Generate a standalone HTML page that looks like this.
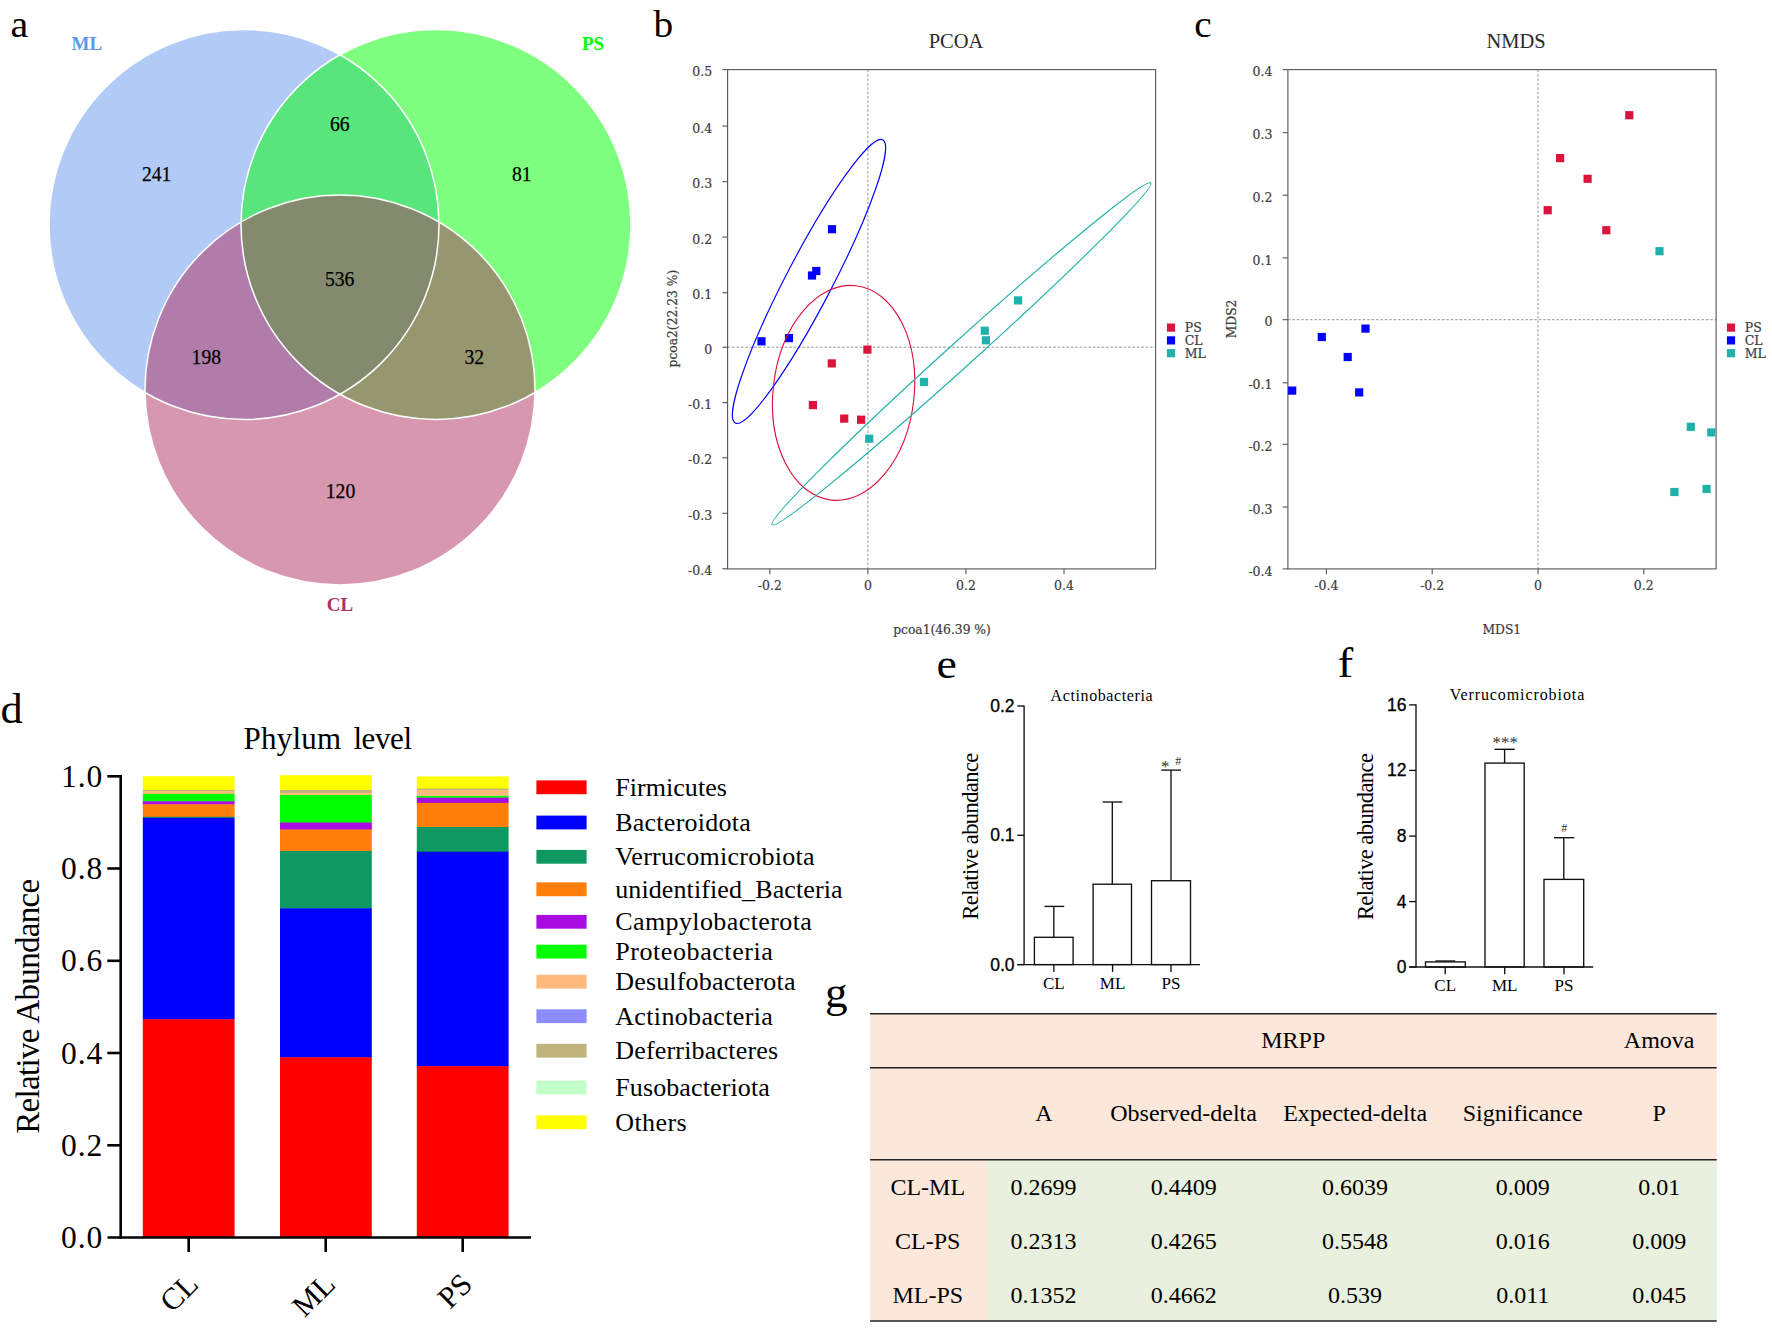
<!DOCTYPE html>
<html lang="en"><head><meta charset="utf-8"><title>Figure</title>
<style>html,body{margin:0;padding:0;background:#fff}svg{display:block}text{white-space:pre}</style>
</head><body>
<svg width="1772" height="1331" viewBox="0 0 1772 1331">
<text transform="translate(10.6 36.6) scale(1.05 1)" font-size="38" font-family='"Liberation Serif","Times New Roman",serif' fill="#000">a</text>
<text transform="translate(653.6 37.1) scale(1.05 1)" font-size="37.5" font-family='"Liberation Serif","Times New Roman",serif' fill="#000">b</text>
<text transform="translate(1194.2 36.6) scale(1.05 1)" font-size="37.3" font-family='"Liberation Serif","Times New Roman",serif' fill="#000">c</text>
<text transform="translate(0.6 722.9) scale(1.05 1)" font-size="42.3" font-family='"Liberation Serif","Times New Roman",serif' fill="#000">d</text>
<text transform="translate(936.6 678.4) scale(1.09 1)" font-size="42.1" font-family='"Liberation Serif","Times New Roman",serif' fill="#000">e</text>
<text transform="translate(1337.5 677.0) scale(1.1 1)" font-size="43" font-family='"Liberation Serif","Times New Roman",serif' fill="#000">f</text>
<text transform="translate(825.1 1007.2) scale(1.02 1)" font-size="44.3" font-family='"Liberation Serif","Times New Roman",serif' fill="#000">g</text>
<g fill-opacity="0.5" stroke="none">
<circle cx="244" cy="224.5" r="195" fill="#6495ED"/>
<circle cx="436" cy="224.5" r="195" fill="#00FF00"/>
<circle cx="340" cy="390" r="195" fill="#B03060"/>
</g>
<g fill="none" stroke="#fff" stroke-width="1.5">
<circle cx="244" cy="224.5" r="195"/>
<circle cx="436" cy="224.5" r="195"/>
<circle cx="340" cy="390" r="195"/>
</g>
<text x="141.9" y="180.5" font-size="21.5" font-family='"Liberation Serif","Times New Roman",serif' fill="#000" stroke="#000" stroke-width="0.25" textLength="29.4" lengthAdjust="spacingAndGlyphs">241</text>
<text x="329.9" y="131.3" font-size="21.5" font-family='"Liberation Serif","Times New Roman",serif' fill="#000" stroke="#000" stroke-width="0.25" textLength="19.6" lengthAdjust="spacingAndGlyphs">66</text>
<text x="512.0" y="180.5" font-size="21.5" font-family='"Liberation Serif","Times New Roman",serif' fill="#000" stroke="#000" stroke-width="0.25" textLength="19.6" lengthAdjust="spacingAndGlyphs">81</text>
<text x="325.0" y="285.8" font-size="21.5" font-family='"Liberation Serif","Times New Roman",serif' fill="#000" stroke="#000" stroke-width="0.25" textLength="29.4" lengthAdjust="spacingAndGlyphs">536</text>
<text x="191.6" y="364.3" font-size="21.5" font-family='"Liberation Serif","Times New Roman",serif' fill="#000" stroke="#000" stroke-width="0.25" textLength="29.4" lengthAdjust="spacingAndGlyphs">198</text>
<text x="464.5" y="364.3" font-size="21.5" font-family='"Liberation Serif","Times New Roman",serif' fill="#000" stroke="#000" stroke-width="0.25" textLength="19.6" lengthAdjust="spacingAndGlyphs">32</text>
<text x="325.8" y="497.5" font-size="21.5" font-family='"Liberation Serif","Times New Roman",serif' fill="#000" stroke="#000" stroke-width="0.25" textLength="29.4" lengthAdjust="spacingAndGlyphs">120</text>
<text x="86.8" y="50.1" font-size="19" font-family='"Liberation Serif","Times New Roman",serif' fill="#6495ED" text-anchor="middle" font-weight="bold" >ML</text>
<text x="593" y="50.1" font-size="19" font-family='"Liberation Serif","Times New Roman",serif' fill="#00FF00" text-anchor="middle" font-weight="bold" >PS</text>
<text x="340" y="611" font-size="19" font-family='"Liberation Serif","Times New Roman",serif' fill="#B03060" text-anchor="middle" font-weight="bold" >CL</text>
<g stroke="#8a8a8a" stroke-width="0.9" stroke-dasharray="2.6 1.8">
<line x1="727.6" y1="347.2" x2="1155.6" y2="347.2"/><line x1="867.9" y1="69.6" x2="867.9" y2="568.9"/></g>
<rect x="727.6" y="69.6" width="427.9999999999999" height="499.29999999999995" fill="none" stroke="#555" stroke-width="1.1"/>
<g stroke="#555" stroke-width="1.1">
<line x1="722.3000000000001" y1="69.6" x2="727.6" y2="69.6"/>
<line x1="722.3000000000001" y1="126" x2="727.6" y2="126"/>
<line x1="722.3000000000001" y1="181.7" x2="727.6" y2="181.7"/>
<line x1="722.3000000000001" y1="237.1" x2="727.6" y2="237.1"/>
<line x1="722.3000000000001" y1="292.8" x2="727.6" y2="292.8"/>
<line x1="722.3000000000001" y1="347.2" x2="727.6" y2="347.2"/>
<line x1="722.3000000000001" y1="402.6" x2="727.6" y2="402.6"/>
<line x1="722.3000000000001" y1="457.8" x2="727.6" y2="457.8"/>
<line x1="722.3000000000001" y1="513.3" x2="727.6" y2="513.3"/>
<line x1="722.3000000000001" y1="568.8" x2="727.6" y2="568.8"/>
<line x1="769.8399999999999" y1="568.9" x2="769.8399999999999" y2="574.1999999999999"/>
<line x1="867.9" y1="568.9" x2="867.9" y2="574.1999999999999"/>
<line x1="965.96" y1="568.9" x2="965.96" y2="574.1999999999999"/>
<line x1="1064.02" y1="568.9" x2="1064.02" y2="574.1999999999999"/>
</g>
<text x="712.2" y="76.19999999999999" font-size="12.5" font-family='"DejaVu Serif","Liberation Serif",serif' fill="#3c3c3c" text-anchor="end" stroke="#444" stroke-width="0.22">0.5</text>
<text x="712.2" y="132.6" font-size="12.5" font-family='"DejaVu Serif","Liberation Serif",serif' fill="#3c3c3c" text-anchor="end" stroke="#444" stroke-width="0.22">0.4</text>
<text x="712.2" y="188.29999999999998" font-size="12.5" font-family='"DejaVu Serif","Liberation Serif",serif' fill="#3c3c3c" text-anchor="end" stroke="#444" stroke-width="0.22">0.3</text>
<text x="712.2" y="243.7" font-size="12.5" font-family='"DejaVu Serif","Liberation Serif",serif' fill="#3c3c3c" text-anchor="end" stroke="#444" stroke-width="0.22">0.2</text>
<text x="712.2" y="299.40000000000003" font-size="12.5" font-family='"DejaVu Serif","Liberation Serif",serif' fill="#3c3c3c" text-anchor="end" stroke="#444" stroke-width="0.22">0.1</text>
<text x="712.2" y="353.8" font-size="12.5" font-family='"DejaVu Serif","Liberation Serif",serif' fill="#3c3c3c" text-anchor="end" stroke="#444" stroke-width="0.22">0</text>
<text x="712.2" y="409.20000000000005" font-size="12.5" font-family='"DejaVu Serif","Liberation Serif",serif' fill="#3c3c3c" text-anchor="end" stroke="#444" stroke-width="0.22">-0.1</text>
<text x="712.2" y="464.40000000000003" font-size="12.5" font-family='"DejaVu Serif","Liberation Serif",serif' fill="#3c3c3c" text-anchor="end" stroke="#444" stroke-width="0.22">-0.2</text>
<text x="712.2" y="519.9" font-size="12.5" font-family='"DejaVu Serif","Liberation Serif",serif' fill="#3c3c3c" text-anchor="end" stroke="#444" stroke-width="0.22">-0.3</text>
<text x="712.2" y="575.4" font-size="12.5" font-family='"DejaVu Serif","Liberation Serif",serif' fill="#3c3c3c" text-anchor="end" stroke="#444" stroke-width="0.22">-0.4</text>
<text x="769.8399999999999" y="589.9" font-size="12.5" font-family='"DejaVu Serif","Liberation Serif",serif' fill="#3c3c3c" text-anchor="middle" stroke="#444" stroke-width="0.22">-0.2</text>
<text x="867.9" y="589.9" font-size="12.5" font-family='"DejaVu Serif","Liberation Serif",serif' fill="#3c3c3c" text-anchor="middle" stroke="#444" stroke-width="0.22">0</text>
<text x="965.96" y="589.9" font-size="12.5" font-family='"DejaVu Serif","Liberation Serif",serif' fill="#3c3c3c" text-anchor="middle" stroke="#444" stroke-width="0.22">0.2</text>
<text x="1064.02" y="589.9" font-size="12.5" font-family='"DejaVu Serif","Liberation Serif",serif' fill="#3c3c3c" text-anchor="middle" stroke="#444" stroke-width="0.22">0.4</text>
<text x="956" y="47.5" font-size="20.5" font-family='"Liberation Serif","Times New Roman",serif' fill="#2a2a2a" text-anchor="middle" >PCOA</text>
<text x="942" y="633.7" font-size="12.3" font-family='"DejaVu Serif","Liberation Serif",serif' fill="#3c3c3c" text-anchor="middle" stroke="#444" stroke-width="0.22">pcoa1(46.39 %)</text>
<text x="677.5" y="318.6" font-size="12.3" font-family='"DejaVu Serif","Liberation Serif",serif' fill="#3c3c3c" text-anchor="middle" transform="rotate(-90 677.5 318.6)" stroke="#444" stroke-width="0.22">pcoa2(22.23 %)</text>
<rect x="757.4" y="337.2" width="8.2" height="8.2" fill="#0000FF"/>
<rect x="784.9" y="334.0" width="8.2" height="8.2" fill="#0000FF"/>
<rect x="827.9" y="225.1" width="8.2" height="8.2" fill="#0000FF"/>
<rect x="812.2" y="266.9" width="8.2" height="8.2" fill="#0000FF"/>
<rect x="807.9" y="271.4" width="8.2" height="8.2" fill="#0000FF"/>
<rect x="863.3" y="345.5" width="8.2" height="8.2" fill="#DC143C"/>
<rect x="827.7" y="359.3" width="8.2" height="8.2" fill="#DC143C"/>
<rect x="808.8" y="401.0" width="8.2" height="8.2" fill="#DC143C"/>
<rect x="840.1" y="414.5" width="8.2" height="8.2" fill="#DC143C"/>
<rect x="857.0" y="415.6" width="8.2" height="8.2" fill="#DC143C"/>
<rect x="865.1" y="434.6" width="8.2" height="8.2" fill="#20B2AA"/>
<rect x="919.9" y="377.9" width="8.2" height="8.2" fill="#20B2AA"/>
<rect x="980.7" y="326.6" width="8.2" height="8.2" fill="#20B2AA"/>
<rect x="981.8" y="336.2" width="8.2" height="8.2" fill="#20B2AA"/>
<rect x="1014.0" y="296.3" width="8.2" height="8.2" fill="#20B2AA"/>
<rect x="1166.9" y="323.5" width="8.2" height="8.2" fill="#DC143C"/>
<text x="1184.8" y="332.0" font-size="12.5" font-family='"DejaVu Serif","Liberation Serif",serif' fill="#3c3c3c" stroke="#444" stroke-width="0.22">PS</text>
<rect x="1166.9" y="336.3" width="8.2" height="8.2" fill="#0000FF"/>
<text x="1184.8" y="344.8" font-size="12.5" font-family='"DejaVu Serif","Liberation Serif",serif' fill="#3c3c3c" stroke="#444" stroke-width="0.22">CL</text>
<rect x="1166.9" y="349.1" width="8.2" height="8.2" fill="#20B2AA"/>
<text x="1184.8" y="357.6" font-size="12.5" font-family='"DejaVu Serif","Liberation Serif",serif' fill="#3c3c3c" stroke="#444" stroke-width="0.22">ML</text>
<g fill="none" stroke-width="1.15">
<ellipse cx="809" cy="281.4" rx="159.7" ry="23.2" transform="rotate(-62.5 809 281.4)" stroke="#0000FF"/>
<ellipse cx="843.6" cy="392.9" rx="70.5" ry="107.9" transform="rotate(6.6 843.6 392.9)" stroke="#DC143C"/>
<ellipse cx="961.4" cy="353.9" rx="255" ry="12.6" transform="rotate(-42.08 961.4 353.9)" stroke="#20B2AA"/>
</g>
<g stroke="#8a8a8a" stroke-width="0.9" stroke-dasharray="2.6 1.8">
<line x1="1287.9" y1="319.7" x2="1716.1" y2="319.7"/><line x1="1538" y1="69.6" x2="1538" y2="568.9"/></g>
<rect x="1287.9" y="69.6" width="428.1999999999998" height="499.29999999999995" fill="none" stroke="#555" stroke-width="1.1"/>
<g stroke="#555" stroke-width="1.1">
<line x1="1282.6000000000001" y1="69.6" x2="1287.9" y2="69.6"/>
<line x1="1282.6000000000001" y1="132.7" x2="1287.9" y2="132.7"/>
<line x1="1282.6000000000001" y1="195.2" x2="1287.9" y2="195.2"/>
<line x1="1282.6000000000001" y1="257.9" x2="1287.9" y2="257.9"/>
<line x1="1282.6000000000001" y1="319.7" x2="1287.9" y2="319.7"/>
<line x1="1282.6000000000001" y1="382.8" x2="1287.9" y2="382.8"/>
<line x1="1282.6000000000001" y1="444.3" x2="1287.9" y2="444.3"/>
<line x1="1282.6000000000001" y1="507" x2="1287.9" y2="507"/>
<line x1="1282.6000000000001" y1="568.9" x2="1287.9" y2="568.9"/>
<line x1="1326.4" y1="568.9" x2="1326.4" y2="574.1999999999999"/>
<line x1="1432.2" y1="568.9" x2="1432.2" y2="574.1999999999999"/>
<line x1="1538" y1="568.9" x2="1538" y2="574.1999999999999"/>
<line x1="1643.8" y1="568.9" x2="1643.8" y2="574.1999999999999"/>
</g>
<text x="1272.5" y="76.19999999999999" font-size="12.5" font-family='"DejaVu Serif","Liberation Serif",serif' fill="#3c3c3c" text-anchor="end" stroke="#444" stroke-width="0.22">0.4</text>
<text x="1272.5" y="139.29999999999998" font-size="12.5" font-family='"DejaVu Serif","Liberation Serif",serif' fill="#3c3c3c" text-anchor="end" stroke="#444" stroke-width="0.22">0.3</text>
<text x="1272.5" y="201.79999999999998" font-size="12.5" font-family='"DejaVu Serif","Liberation Serif",serif' fill="#3c3c3c" text-anchor="end" stroke="#444" stroke-width="0.22">0.2</text>
<text x="1272.5" y="264.5" font-size="12.5" font-family='"DejaVu Serif","Liberation Serif",serif' fill="#3c3c3c" text-anchor="end" stroke="#444" stroke-width="0.22">0.1</text>
<text x="1272.5" y="326.3" font-size="12.5" font-family='"DejaVu Serif","Liberation Serif",serif' fill="#3c3c3c" text-anchor="end" stroke="#444" stroke-width="0.22">0</text>
<text x="1272.5" y="389.40000000000003" font-size="12.5" font-family='"DejaVu Serif","Liberation Serif",serif' fill="#3c3c3c" text-anchor="end" stroke="#444" stroke-width="0.22">-0.1</text>
<text x="1272.5" y="450.90000000000003" font-size="12.5" font-family='"DejaVu Serif","Liberation Serif",serif' fill="#3c3c3c" text-anchor="end" stroke="#444" stroke-width="0.22">-0.2</text>
<text x="1272.5" y="513.6" font-size="12.5" font-family='"DejaVu Serif","Liberation Serif",serif' fill="#3c3c3c" text-anchor="end" stroke="#444" stroke-width="0.22">-0.3</text>
<text x="1272.5" y="575.5" font-size="12.5" font-family='"DejaVu Serif","Liberation Serif",serif' fill="#3c3c3c" text-anchor="end" stroke="#444" stroke-width="0.22">-0.4</text>
<text x="1326.4" y="589.9" font-size="12.5" font-family='"DejaVu Serif","Liberation Serif",serif' fill="#3c3c3c" text-anchor="middle" stroke="#444" stroke-width="0.22">-0.4</text>
<text x="1432.2" y="589.9" font-size="12.5" font-family='"DejaVu Serif","Liberation Serif",serif' fill="#3c3c3c" text-anchor="middle" stroke="#444" stroke-width="0.22">-0.2</text>
<text x="1538" y="589.9" font-size="12.5" font-family='"DejaVu Serif","Liberation Serif",serif' fill="#3c3c3c" text-anchor="middle" stroke="#444" stroke-width="0.22">0</text>
<text x="1643.8" y="589.9" font-size="12.5" font-family='"DejaVu Serif","Liberation Serif",serif' fill="#3c3c3c" text-anchor="middle" stroke="#444" stroke-width="0.22">0.2</text>
<text x="1516" y="47.5" font-size="20.5" font-family='"Liberation Serif","Times New Roman",serif' fill="#2a2a2a" text-anchor="middle" >NMDS</text>
<text x="1501.8" y="633.7" font-size="12.3" font-family='"DejaVu Serif","Liberation Serif",serif' fill="#3c3c3c" text-anchor="middle" stroke="#444" stroke-width="0.22">MDS1</text>
<text x="1236" y="318.9" font-size="12.3" font-family='"DejaVu Serif","Liberation Serif",serif' fill="#3c3c3c" text-anchor="middle" transform="rotate(-90 1236 318.9)" stroke="#444" stroke-width="0.22">MDS2</text>
<rect x="1625.2" y="111.1" width="8.2" height="8.2" fill="#DC143C"/>
<rect x="1556.0" y="154.0" width="8.2" height="8.2" fill="#DC143C"/>
<rect x="1583.5" y="174.7" width="8.2" height="8.2" fill="#DC143C"/>
<rect x="1543.6" y="206.1" width="8.2" height="8.2" fill="#DC143C"/>
<rect x="1602.2" y="226.1" width="8.2" height="8.2" fill="#DC143C"/>
<rect x="1361.4" y="324.5" width="8.2" height="8.2" fill="#0000FF"/>
<rect x="1317.7" y="332.9" width="8.2" height="8.2" fill="#0000FF"/>
<rect x="1343.6" y="352.9" width="8.2" height="8.2" fill="#0000FF"/>
<rect x="1355.1" y="388.3" width="8.2" height="8.2" fill="#0000FF"/>
<rect x="1288.1" y="386.5" width="8.2" height="8.2" fill="#0000FF"/>
<rect x="1655.4" y="247.1" width="8.2" height="8.2" fill="#20B2AA"/>
<rect x="1686.7" y="422.7" width="8.2" height="8.2" fill="#20B2AA"/>
<rect x="1707.2" y="428.3" width="8.2" height="8.2" fill="#20B2AA"/>
<rect x="1670.3" y="487.9" width="8.2" height="8.2" fill="#20B2AA"/>
<rect x="1702.5" y="484.9" width="8.2" height="8.2" fill="#20B2AA"/>
<rect x="1726.9" y="323.5" width="8.2" height="8.2" fill="#DC143C"/>
<text x="1744.8" y="332.0" font-size="12.5" font-family='"DejaVu Serif","Liberation Serif",serif' fill="#3c3c3c" stroke="#444" stroke-width="0.22">PS</text>
<rect x="1726.9" y="336.3" width="8.2" height="8.2" fill="#0000FF"/>
<text x="1744.8" y="344.8" font-size="12.5" font-family='"DejaVu Serif","Liberation Serif",serif' fill="#3c3c3c" stroke="#444" stroke-width="0.22">CL</text>
<rect x="1726.9" y="349.1" width="8.2" height="8.2" fill="#20B2AA"/>
<text x="1744.8" y="357.6" font-size="12.5" font-family='"DejaVu Serif","Liberation Serif",serif' fill="#3c3c3c" stroke="#444" stroke-width="0.22">ML</text>
<rect x="142.8" y="776.2" width="91.8" height="14.20" fill="#FFFF00"/>
<rect x="142.8" y="790" width="91.8" height="1.60" fill="#BDB37B"/>
<rect x="142.8" y="791.2" width="91.8" height="3.00" fill="#FFBB7D"/>
<rect x="142.8" y="793.8" width="91.8" height="7.90" fill="#00FF00"/>
<rect x="142.8" y="801.3" width="91.8" height="3.40" fill="#A80CE0"/>
<rect x="142.8" y="804.3" width="91.8" height="12.90" fill="#FF7F0A"/>
<rect x="142.8" y="816.8" width="91.8" height="1.40" fill="#0F9862"/>
<rect x="142.8" y="817.8" width="91.8" height="201.90" fill="#0000FF"/>
<rect x="142.8" y="1019.3" width="91.8" height="218.60" fill="#FF0000"/>
<rect x="280" y="775.2" width="91.8" height="15.20" fill="#FFFF00"/>
<rect x="280" y="790" width="91.8" height="3.20" fill="#BDB37B"/>
<rect x="280" y="792.8" width="91.8" height="2.60" fill="#FFBB7D"/>
<rect x="280" y="795" width="91.8" height="27.90" fill="#00FF00"/>
<rect x="280" y="822.5" width="91.8" height="7.40" fill="#A80CE0"/>
<rect x="280" y="829.5" width="91.8" height="21.90" fill="#FF7F0A"/>
<rect x="280" y="851" width="91.8" height="57.70" fill="#0F9862"/>
<rect x="280" y="908.3" width="91.8" height="149.40" fill="#0000FF"/>
<rect x="280" y="1057.3" width="91.8" height="180.60" fill="#FF0000"/>
<rect x="416.8" y="776.4" width="91.8" height="12.60" fill="#FFFF00"/>
<rect x="416.8" y="788.6" width="91.8" height="1.80" fill="#BDB37B"/>
<rect x="416.8" y="790" width="91.8" height="6.30" fill="#FFBB7D"/>
<rect x="416.8" y="795.9" width="91.8" height="2.20" fill="#00FF00"/>
<rect x="416.8" y="797.7" width="91.8" height="5.60" fill="#A80CE0"/>
<rect x="416.8" y="802.9" width="91.8" height="24.50" fill="#FF7F0A"/>
<rect x="416.8" y="827" width="91.8" height="25.10" fill="#0F9862"/>
<rect x="416.8" y="851.7" width="91.8" height="214.90" fill="#0000FF"/>
<rect x="416.8" y="1066.2" width="91.8" height="171.70" fill="#FF0000"/>
<g stroke="#000" stroke-width="2.6" fill="none">
<line x1="120.7" y1="775.1" x2="120.7" y2="1238.8"/>
<line x1="107.5" y1="1237.5" x2="531" y2="1237.5"/>
<line x1="107.3" y1="776.3" x2="120.7" y2="776.3"/>
<line x1="107.3" y1="868.5" x2="120.7" y2="868.5"/>
<line x1="107.3" y1="960.8" x2="120.7" y2="960.8"/>
<line x1="107.3" y1="1053.0" x2="120.7" y2="1053.0"/>
<line x1="107.3" y1="1145.3" x2="120.7" y2="1145.3"/>
<line x1="188.7" y1="1237.5" x2="188.7" y2="1252.0"/>
<line x1="325.7" y1="1237.5" x2="325.7" y2="1252.0"/>
<line x1="462.7" y1="1237.5" x2="462.7" y2="1252.0"/>
</g>
<text x="102.3" y="786.9" font-size="31.5" font-family='"Liberation Serif","Times New Roman",serif' fill="#000" text-anchor="end" textLength="41.3" lengthAdjust="spacing" >1.0</text>
<text x="102.3" y="879.14" font-size="31.5" font-family='"Liberation Serif","Times New Roman",serif' fill="#000" text-anchor="end" textLength="41.3" lengthAdjust="spacing" >0.8</text>
<text x="102.3" y="971.38" font-size="31.5" font-family='"Liberation Serif","Times New Roman",serif' fill="#000" text-anchor="end" textLength="41.3" lengthAdjust="spacing" >0.6</text>
<text x="102.3" y="1063.62" font-size="31.5" font-family='"Liberation Serif","Times New Roman",serif' fill="#000" text-anchor="end" textLength="41.3" lengthAdjust="spacing" >0.4</text>
<text x="102.3" y="1155.86" font-size="31.5" font-family='"Liberation Serif","Times New Roman",serif' fill="#000" text-anchor="end" textLength="41.3" lengthAdjust="spacing" >0.2</text>
<text x="102.3" y="1248.1" font-size="31.5" font-family='"Liberation Serif","Times New Roman",serif' fill="#000" text-anchor="end" textLength="41.3" lengthAdjust="spacing" >0.0</text>
<text x="243.6" y="749.2" font-size="31" font-family='"Liberation Serif","Times New Roman",serif' fill="#000" textLength="97.6" lengthAdjust="spacing" >Phylum</text>
<text x="353.4" y="749.2" font-size="31" font-family='"Liberation Serif","Times New Roman",serif' fill="#000" textLength="58.6" lengthAdjust="spacing" >level</text>
<text x="38.8" y="1006.3" font-size="33" font-family='"Liberation Serif","Times New Roman",serif' fill="#000" text-anchor="middle" transform="rotate(-90 38.8 1006.3)" textLength="255" lengthAdjust="spacing" >Relative Abundance</text>
<text x="199.89999999999998" y="1286" font-size="30.5" font-family='"Liberation Serif","Times New Roman",serif' fill="#000" text-anchor="end" transform="rotate(-45 199.89999999999998 1286)" >CL</text>
<text x="336.9" y="1286" font-size="30.5" font-family='"Liberation Serif","Times New Roman",serif' fill="#000" text-anchor="end" transform="rotate(-45 336.9 1286)" >ML</text>
<text x="473.9" y="1286" font-size="30.5" font-family='"Liberation Serif","Times New Roman",serif' fill="#000" text-anchor="end" transform="rotate(-45 473.9 1286)" >PS</text>
<rect x="536.4" y="780.4" width="50.2" height="13.8" fill="#FF0000"/>
<text x="615.2" y="795.9" font-size="26" font-family='"Liberation Serif","Times New Roman",serif' fill="#000" textLength="111.7" lengthAdjust="spacing" >Firmicutes</text>
<rect x="536.4" y="815.6" width="50.2" height="13.8" fill="#0000FF"/>
<text x="615.2" y="831.1" font-size="26" font-family='"Liberation Serif","Times New Roman",serif' fill="#000" textLength="135.6" lengthAdjust="spacing" >Bacteroidota</text>
<rect x="536.4" y="849.9" width="50.2" height="13.8" fill="#0F9862"/>
<text x="615.2" y="865.4" font-size="26" font-family='"Liberation Serif","Times New Roman",serif' fill="#000" textLength="199.3" lengthAdjust="spacing" >Verrucomicrobiota</text>
<rect x="536.4" y="882.4" width="50.2" height="13.8" fill="#FF7F0A"/>
<text x="615.2" y="897.9" font-size="26" font-family='"Liberation Serif","Times New Roman",serif' fill="#000" textLength="227.4" lengthAdjust="spacing" >unidentified_Bacteria</text>
<rect x="536.4" y="914.9" width="50.2" height="13.8" fill="#A80CE0"/>
<text x="615.2" y="930.4" font-size="26" font-family='"Liberation Serif","Times New Roman",serif' fill="#000" textLength="196.7" lengthAdjust="spacing" >Campylobacterota</text>
<rect x="536.4" y="944.7" width="50.2" height="13.8" fill="#00FF00"/>
<text x="615.2" y="960.2" font-size="26" font-family='"Liberation Serif","Times New Roman",serif' fill="#000" textLength="157.7" lengthAdjust="spacing" >Proteobacteria</text>
<rect x="536.4" y="974.8" width="50.2" height="13.8" fill="#FFBB7D"/>
<text x="615.2" y="990.3000000000001" font-size="26" font-family='"Liberation Serif","Times New Roman",serif' fill="#000" textLength="180.3" lengthAdjust="spacing" >Desulfobacterota</text>
<rect x="536.4" y="1009.3" width="50.2" height="13.8" fill="#8C8CFF"/>
<text x="615.2" y="1024.8" font-size="26" font-family='"Liberation Serif","Times New Roman",serif' fill="#000" textLength="157.7" lengthAdjust="spacing" >Actinobacteria</text>
<rect x="536.4" y="1043.8" width="50.2" height="13.8" fill="#BDB37B"/>
<text x="615.2" y="1059.3" font-size="26" font-family='"Liberation Serif","Times New Roman",serif' fill="#000" textLength="162.9" lengthAdjust="spacing" >Deferribacteres</text>
<rect x="536.4" y="1080.6" width="50.2" height="13.8" fill="#C3FFC8"/>
<text x="615.2" y="1096.1" font-size="26" font-family='"Liberation Serif","Times New Roman",serif' fill="#000" textLength="154.6" lengthAdjust="spacing" >Fusobacteriota</text>
<rect x="536.4" y="1115.4" width="50.2" height="13.8" fill="#FFFF00"/>
<text x="615.2" y="1130.8999999999999" font-size="26" font-family='"Liberation Serif","Times New Roman",serif' fill="#000" textLength="71.4" lengthAdjust="spacing" >Others</text>
<g stroke="#111" stroke-width="1.35" fill="#fff">
<line x1="1053.8" y1="937.3" x2="1053.8" y2="906.4"/>
<line x1="1044.4" y1="906.4" x2="1064.2" y2="906.4"/>
<rect x="1034.4" y="937.3" width="38.7" height="27.3"/>
<line x1="1112.3" y1="884.2" x2="1112.3" y2="802"/>
<line x1="1102.6" y1="802" x2="1122.3" y2="802"/>
<rect x="1093.1" y="884.2" width="38.4" height="80.4"/>
<line x1="1171.0" y1="880.7" x2="1171.0" y2="770.1"/>
<line x1="1161.3" y1="770.1" x2="1181" y2="770.1"/>
<rect x="1151.5" y="880.7" width="39.0" height="83.9"/>
<line x1="1024.1" y1="705.4" x2="1024.1" y2="965.2"/>
<line x1="1017.3" y1="964.6" x2="1200" y2="964.6"/>
<line x1="1017.3" y1="706" x2="1024.1" y2="706"/>
<line x1="1017.3" y1="835.3" x2="1024.1" y2="835.3"/>
<line x1="1017.3" y1="964.6" x2="1024.1" y2="964.6"/>
<line x1="1053.9" y1="964.6" x2="1053.9" y2="971.9"/>
<line x1="1112.6" y1="964.6" x2="1112.6" y2="971.9"/>
<line x1="1171" y1="964.6" x2="1171" y2="971.9"/>
</g>
<text x="1014.5999999999999" y="712" font-size="17.5" font-family='"Liberation Sans",Arial,sans-serif' fill="#000" text-anchor="end" stroke="#000" stroke-width="0.3">0.2</text>
<text x="1014.5999999999999" y="841.3" font-size="17.5" font-family='"Liberation Sans",Arial,sans-serif' fill="#000" text-anchor="end" stroke="#000" stroke-width="0.3">0.1</text>
<text x="1014.5999999999999" y="970.6" font-size="17.5" font-family='"Liberation Sans",Arial,sans-serif' fill="#000" text-anchor="end" stroke="#000" stroke-width="0.3">0.0</text>
<text x="1053.9" y="989.0" font-size="17" font-family='"Liberation Serif","Times New Roman",serif' fill="#000" text-anchor="middle" >CL</text>
<text x="1112.6" y="989.0" font-size="17" font-family='"Liberation Serif","Times New Roman",serif' fill="#000" text-anchor="middle" >ML</text>
<text x="1171" y="989.0" font-size="17" font-family='"Liberation Serif","Times New Roman",serif' fill="#000" text-anchor="middle" >PS</text>
<text x="1101.6" y="701.4" font-size="16" font-family='"Liberation Serif","Times New Roman",serif' fill="#000" text-anchor="middle" textLength="102" lengthAdjust="spacing" >Actinobacteria</text>
<text x="978.2" y="836.2" font-size="22.5" font-family='"Liberation Serif","Times New Roman",serif' fill="#000" text-anchor="middle" transform="rotate(-90 978.2 836.2)" textLength="167" lengthAdjust="spacing" >Relative abundance</text>
<text x="1165.3" y="771.5" font-size="17" font-family='"Liberation Serif","Times New Roman",serif' fill="#333" text-anchor="middle" >*</text>
<text x="1178.3" y="764.6" font-size="12" font-family='"Liberation Serif","Times New Roman",serif' fill="#333" text-anchor="middle" >#</text>
<g stroke="#111" stroke-width="1.35" fill="#fff">
<line x1="1445.4" y1="961.9" x2="1445.4" y2="961"/>
<line x1="1435.5" y1="961" x2="1455.2" y2="961"/>
<rect x="1425.5" y="961.9" width="39.8" height="5.1"/>
<line x1="1504.6" y1="763.1" x2="1504.6" y2="749.3"/>
<line x1="1494.5" y1="749.3" x2="1514.8" y2="749.3"/>
<rect x="1485" y="763.1" width="39.2" height="203.9"/>
<line x1="1563.8" y1="879.4" x2="1563.8" y2="837.7"/>
<line x1="1554" y1="837.7" x2="1574.3" y2="837.7"/>
<rect x="1544" y="879.4" width="39.7" height="87.6"/>
<line x1="1416" y1="704.3" x2="1416" y2="967.6"/>
<line x1="1409.2" y1="967" x2="1593.2" y2="967"/>
<line x1="1409.2" y1="704.9" x2="1416" y2="704.9"/>
<line x1="1409.2" y1="770.4" x2="1416" y2="770.4"/>
<line x1="1409.2" y1="836.1" x2="1416" y2="836.1"/>
<line x1="1409.2" y1="901.6" x2="1416" y2="901.6"/>
<line x1="1409.2" y1="967" x2="1416" y2="967"/>
<line x1="1445.2" y1="967" x2="1445.2" y2="974.3"/>
<line x1="1504.7" y1="967" x2="1504.7" y2="974.3"/>
<line x1="1564" y1="967" x2="1564" y2="974.3"/>
</g>
<text x="1406.5" y="710.9" font-size="17.5" font-family='"Liberation Sans",Arial,sans-serif' fill="#000" text-anchor="end" stroke="#000" stroke-width="0.3">16</text>
<text x="1406.5" y="776.4" font-size="17.5" font-family='"Liberation Sans",Arial,sans-serif' fill="#000" text-anchor="end" stroke="#000" stroke-width="0.3">12</text>
<text x="1406.5" y="842.1" font-size="17.5" font-family='"Liberation Sans",Arial,sans-serif' fill="#000" text-anchor="end" stroke="#000" stroke-width="0.3">8</text>
<text x="1406.5" y="907.6" font-size="17.5" font-family='"Liberation Sans",Arial,sans-serif' fill="#000" text-anchor="end" stroke="#000" stroke-width="0.3">4</text>
<text x="1406.5" y="973" font-size="17.5" font-family='"Liberation Sans",Arial,sans-serif' fill="#000" text-anchor="end" stroke="#000" stroke-width="0.3">0</text>
<text x="1445.2" y="991.4" font-size="17" font-family='"Liberation Serif","Times New Roman",serif' fill="#000" text-anchor="middle" >CL</text>
<text x="1504.7" y="991.4" font-size="17" font-family='"Liberation Serif","Times New Roman",serif' fill="#000" text-anchor="middle" >ML</text>
<text x="1564" y="991.4" font-size="17" font-family='"Liberation Serif","Times New Roman",serif' fill="#000" text-anchor="middle" >PS</text>
<text x="1517" y="699.5" font-size="16" font-family='"Liberation Serif","Times New Roman",serif' fill="#000" text-anchor="middle" textLength="134.5" lengthAdjust="spacing" >Verrucomicrobiota</text>
<text x="1372.7" y="836.6" font-size="22.5" font-family='"Liberation Serif","Times New Roman",serif' fill="#000" text-anchor="middle" transform="rotate(-90 1372.7 836.6)" textLength="167" lengthAdjust="spacing" >Relative abundance</text>
<text x="1505.3" y="748" font-size="17" font-family='"Liberation Serif","Times New Roman",serif' fill="#333" text-anchor="middle" >***</text>
<text x="1564.2" y="832.3" font-size="12" font-family='"Liberation Serif","Times New Roman",serif' fill="#333" text-anchor="middle" >#</text>
<rect x="870.1" y="1013.8" width="846.6" height="307.2" fill="#FCE8DB"/>
<rect x="986.6" y="1159.8" width="730.1" height="161.2" fill="#EAF0DE"/>
<g stroke="#222" stroke-width="1.5">
<line x1="870.1" y1="1013.8" x2="1716.7" y2="1013.8"/>
<line x1="870.1" y1="1067.7" x2="1716.7" y2="1067.7"/>
<line x1="870.1" y1="1159.8" x2="1716.7" y2="1159.8"/>
<line x1="870.1" y1="1321" x2="1716.7" y2="1321"/>
</g>
<text x="1293.3" y="1047.7" font-size="24" font-family='"Liberation Serif","Times New Roman",serif' fill="#000" text-anchor="middle" >MRPP</text>
<text x="1659.2" y="1047.7" font-size="24" font-family='"Liberation Serif","Times New Roman",serif' fill="#000" text-anchor="middle" >Amova</text>
<text x="1044" y="1121.4" font-size="24" font-family='"Liberation Serif","Times New Roman",serif' fill="#000" text-anchor="middle" >A</text>
<text x="1183.6" y="1121.4" font-size="24" font-family='"Liberation Serif","Times New Roman",serif' fill="#000" text-anchor="middle" >Observed-delta</text>
<text x="1355.1" y="1121.4" font-size="24" font-family='"Liberation Serif","Times New Roman",serif' fill="#000" text-anchor="middle" >Expected-delta</text>
<text x="1522.7" y="1121.4" font-size="24" font-family='"Liberation Serif","Times New Roman",serif' fill="#000" text-anchor="middle" >Significance</text>
<text x="1659.2" y="1121.4" font-size="24" font-family='"Liberation Serif","Times New Roman",serif' fill="#000" text-anchor="middle" >P</text>
<text x="927.8" y="1194.5" font-size="24" font-family='"Liberation Serif","Times New Roman",serif' fill="#000" text-anchor="middle" >CL-ML</text>
<text x="1043.6" y="1194.5" font-size="24" font-family='"Liberation Serif","Times New Roman",serif' fill="#000" text-anchor="middle" >0.2699</text>
<text x="1183.8" y="1194.5" font-size="24" font-family='"Liberation Serif","Times New Roman",serif' fill="#000" text-anchor="middle" >0.4409</text>
<text x="1355.1" y="1194.5" font-size="24" font-family='"Liberation Serif","Times New Roman",serif' fill="#000" text-anchor="middle" >0.6039</text>
<text x="1522.7" y="1194.5" font-size="24" font-family='"Liberation Serif","Times New Roman",serif' fill="#000" text-anchor="middle" >0.009</text>
<text x="1659.2" y="1194.5" font-size="24" font-family='"Liberation Serif","Times New Roman",serif' fill="#000" text-anchor="middle" >0.01</text>
<text x="927.8" y="1248.7" font-size="24" font-family='"Liberation Serif","Times New Roman",serif' fill="#000" text-anchor="middle" >CL-PS</text>
<text x="1043.6" y="1248.7" font-size="24" font-family='"Liberation Serif","Times New Roman",serif' fill="#000" text-anchor="middle" >0.2313</text>
<text x="1183.8" y="1248.7" font-size="24" font-family='"Liberation Serif","Times New Roman",serif' fill="#000" text-anchor="middle" >0.4265</text>
<text x="1355.1" y="1248.7" font-size="24" font-family='"Liberation Serif","Times New Roman",serif' fill="#000" text-anchor="middle" >0.5548</text>
<text x="1522.7" y="1248.7" font-size="24" font-family='"Liberation Serif","Times New Roman",serif' fill="#000" text-anchor="middle" >0.016</text>
<text x="1659.2" y="1248.7" font-size="24" font-family='"Liberation Serif","Times New Roman",serif' fill="#000" text-anchor="middle" >0.009</text>
<text x="927.8" y="1302.8" font-size="24" font-family='"Liberation Serif","Times New Roman",serif' fill="#000" text-anchor="middle" >ML-PS</text>
<text x="1043.6" y="1302.8" font-size="24" font-family='"Liberation Serif","Times New Roman",serif' fill="#000" text-anchor="middle" >0.1352</text>
<text x="1183.8" y="1302.8" font-size="24" font-family='"Liberation Serif","Times New Roman",serif' fill="#000" text-anchor="middle" >0.4662</text>
<text x="1355.1" y="1302.8" font-size="24" font-family='"Liberation Serif","Times New Roman",serif' fill="#000" text-anchor="middle" >0.539</text>
<text x="1522.7" y="1302.8" font-size="24" font-family='"Liberation Serif","Times New Roman",serif' fill="#000" text-anchor="middle" >0.011</text>
<text x="1659.2" y="1302.8" font-size="24" font-family='"Liberation Serif","Times New Roman",serif' fill="#000" text-anchor="middle" >0.045</text>
</svg>
</body></html>
